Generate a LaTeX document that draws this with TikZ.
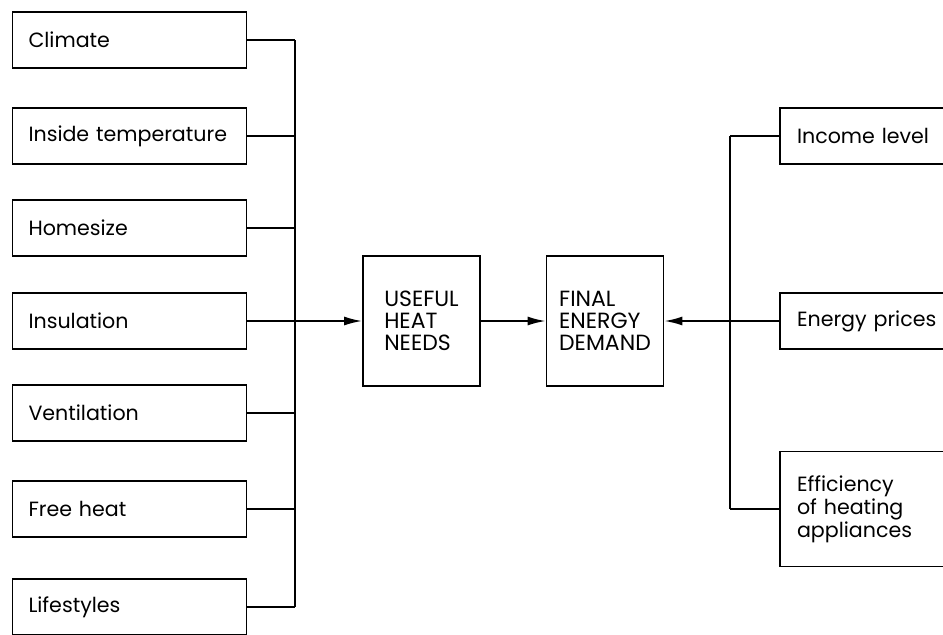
\documentclass[tikz,border=0pt]{standalone}
\usepackage{fontspec}
\setmainfont{Poppins}
\usetikzlibrary{arrows.meta, positioning}

\begin{document}
\begin{tikzpicture}[x=0.5pt, y=-0.5pt,
  factor/.style={draw, line width=0.9pt, minimum width=117pt, minimum height=28pt, text width=101pt, inner xsep=8pt, align=left, font=\fontsize{10.3}{12}\selectfont},
  driver/.style={draw, line width=0.9pt, minimum width=130pt, minimum height=28pt, text width=113pt, inner xsep=8.5pt, align=left, font=\fontsize{10.3}{11.5}\selectfont},
  stage/.style={draw, line width=0.9pt, minimum width=58.5pt, minimum height=65pt, align=left, font=\fontsize{11}{11}\selectfont},
  link/.style={line width=0.9pt},
  feed/.style={line width=0.9pt, -{Latex[length=9pt, width=4.5pt]}}
]
  \useasboundingbox (0,0) rectangle (943,634);

  % heat need factors
  \node[factor] (climate)    at (129.5, 40)  {Climate};
  \node[factor] (inside)     at (129.5, 136) {Inside temperature};
  \node[factor] (homesize)   at (129.5, 228) {Homesize};
  \node[factor] (insulation) at (129.5, 321) {Insulation};
  \node[factor] (ventil)     at (129.5, 413) {Ventilation};
  \node[factor] (freeheat)   at (129.5, 509) {Free heat};
  \node[factor] (lifestyle)  at (129.5, 607) {Lifestyles};

  % demand chain
  \node[stage] (useful) at (421.5, 321) {USEFUL\\HEAT\\NEEDS};
  \node[stage] (final)  at (605, 321)   {FINAL\\ENERGY\\DEMAND};

  % demand drivers
  \node[driver] (income) at (910, 136) {Income level};
  \node[driver] (prices) at (910, 321) {Energy prices};
  \node[driver, minimum height=57.5pt] (effic) at (910, 509) {Efficiency\\of heating\\appliances};

  \coordinate (lbus) at (295, 40);
  \coordinate (rbus) at (730, 136);

  \draw[link] (lbus) -- (lbus |- lifestyle.east);
  \draw[link] (climate.east) -- (climate.east -| lbus);
  \draw[link] (inside.east) -- (inside.east -| lbus);
  \draw[link] (homesize.east) -- (homesize.east -| lbus);
  \draw[link] (insulation.east) -- (insulation.east -| lbus);
  \draw[link] (ventil.east) -- (ventil.east -| lbus);
  \draw[link] (freeheat.east) -- (freeheat.east -| lbus);
  \draw[link] (lifestyle.east) -- (lifestyle.east -| lbus);
  \draw[feed] (insulation.east -| lbus) -- (useful.west);
  \draw[feed] (useful.east) -- (final.west);

  \draw[link] (rbus) -- (rbus |- effic.west);
  \draw[link] (income.west) -- (income.west -| rbus);
  \draw[link] (effic.west) -- (effic.west -| rbus);
  \draw[feed] (prices.west) -- (final.east);
\end{tikzpicture}
\end{document}
